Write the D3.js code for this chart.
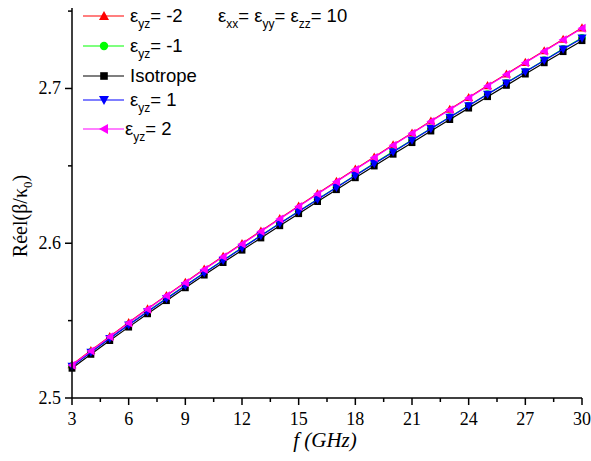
<!DOCTYPE html>
<html>
<head>
<meta charset="utf-8">
<script src="https://cdn.jsdelivr.net/npm/d3@7"></script>
<style>
  body { margin: 0; background: #fff; }
  svg { display: block; }
</style>
</head>
<body>
<div id="chart"></div>
<script>
// frequencies (GHz)
const freqs = [3, 4, 5, 6, 7, 8, 9, 10, 11, 12, 13, 14, 15, 16, 17, 18, 19, 20, 21, 22, 23, 24, 25, 26, 27, 28, 29, 30];

// Réel(beta/k0) for each case
const epsM2 = [2.5215, 2.5307, 2.5398, 2.5488, 2.5576, 2.5663, 2.5748, 2.5833, 2.5916, 2.5998, 2.6079, 2.6160, 2.6241, 2.6321, 2.6400, 2.6479, 2.6557, 2.6636, 2.6713, 2.6790, 2.6866, 2.6942, 2.7019, 2.7094, 2.7169, 2.7244, 2.7318, 2.7392];
const epsM1 = [2.5207, 2.5297, 2.5386, 2.5473, 2.5559, 2.5644, 2.5727, 2.5809, 2.5890, 2.5971, 2.6050, 2.6129, 2.6207, 2.6285, 2.6362, 2.6439, 2.6516, 2.6592, 2.6667, 2.6742, 2.6816, 2.6890, 2.6964, 2.7037, 2.7110, 2.7183, 2.7256, 2.7327];
const iso   = [2.5192, 2.5282, 2.5371, 2.5458, 2.5544, 2.5629, 2.5712, 2.5794, 2.5875, 2.5955, 2.6034, 2.6113, 2.6191, 2.6269, 2.6346, 2.6423, 2.6499, 2.6575, 2.6650, 2.6725, 2.6799, 2.6873, 2.6947, 2.7020, 2.7093, 2.7166, 2.7238, 2.7309];
const epsP1 = [2.5205, 2.5295, 2.5384, 2.5471, 2.5557, 2.5642, 2.5725, 2.5807, 2.5888, 2.5969, 2.6048, 2.6127, 2.6205, 2.6283, 2.6360, 2.6437, 2.6514, 2.6590, 2.6665, 2.6740, 2.6814, 2.6888, 2.6962, 2.7035, 2.7108, 2.7181, 2.7254, 2.7325];
const epsP2 = [2.5212, 2.5304, 2.5395, 2.5485, 2.5573, 2.5660, 2.5745, 2.5830, 2.5913, 2.5995, 2.6076, 2.6157, 2.6238, 2.6318, 2.6397, 2.6476, 2.6554, 2.6633, 2.6710, 2.6787, 2.6863, 2.6939, 2.7016, 2.7091, 2.7166, 2.7241, 2.7315, 2.7389];

const xTicks = [3, 6, 9, 12, 15, 18, 21, 24, 27, 30];
const xMinor = [4.5, 7.5, 10.5, 13.5, 16.5, 19.5, 22.5, 25.5, 28.5];
const yTicks = [2.5, 2.6, 2.7];
const yMinor = [2.55, 2.65, 2.75];

const series = [
    { sub: "yz", label: "= -2", values: epsM2, color: "#ff0000", symbol: "up" },
    { sub: "yz", label: "= -1", values: epsM1, color: "#00ff00", symbol: "circle" },
    { sub: null, label: "Isotrope", values: iso, color: "#000000", symbol: "square" },
    { sub: "yz", label: "= 1", values: epsP1, color: "#0000ff", symbol: "down" },
    { sub: "yz", label: "= 2", values: epsP2, color: "#ff00ff", symbol: "left" }
];

const width = 591, height = 461;
const margin = { top: 8, right: 9, bottom: 63, left: 72 };

const svg = d3.select("#chart").append("svg")
    .attr("width", width)
    .attr("height", height);

const x = d3.scaleLinear().domain([3, 30]).range([margin.left, width - margin.right]);
const y = d3.scaleLinear().domain([2.5, 2.752]).range([height - margin.bottom, margin.top]);

// marker path generator, centred on 0,0
function markerPath(type, s) {
    const h = s / 2;
    if (type === "up") return `M0,${-h}L${h},${h * 0.8}L${-h},${h * 0.8}Z`;
    if (type === "down") return `M0,${h}L${h},${-h * 0.8}L${-h},${-h * 0.8}Z`;
    if (type === "left") return `M${-h},0L${h * 0.8},${-h}L${h * 0.8},${h}Z`;
    if (type === "square") { const q = s * 0.38; return `M${-q},${-q}H${q}V${q}H${-q}Z`; }
    const r = s * 0.42;
    return `M${r},0A${r},${r} 0 1,1 ${-r},0A${r},${r} 0 1,1 ${r},0Z`;
}

const line = d3.line()
    .x((d, i) => x(freqs[i]))
    .y(d => y(d));

// series
series.forEach(s => {
    const g = svg.append("g");
    g.append("path")
        .attr("d", line(s.values))
        .attr("fill", "none")
        .attr("stroke", s.color)
        .attr("stroke-width", 1.2);
    g.selectAll("path.mk")
        .data(s.values)
        .enter()
        .append("path")
        .attr("class", "mk")
        .attr("d", markerPath(s.symbol, 9))
        .attr("transform", (d, i) => `translate(${x(freqs[i])},${y(d)})`)
        .attr("fill", s.color);
});

// axes
const axisG = svg.append("g").attr("stroke", "#000").attr("stroke-width", 1.5);
const x0 = margin.left, yb = height - margin.bottom;

axisG.append("line").attr("x1", x0).attr("x2", width - margin.right).attr("y1", yb).attr("y2", yb);
axisG.append("line").attr("x1", x0).attr("x2", x0).attr("y1", margin.top).attr("y2", yb);

xTicks.forEach(t => axisG.append("line").attr("x1", x(t)).attr("x2", x(t)).attr("y1", yb).attr("y2", yb + 7));
xMinor.forEach(t => axisG.append("line").attr("x1", x(t)).attr("x2", x(t)).attr("y1", yb).attr("y2", yb + 4));
yTicks.forEach(t => axisG.append("line").attr("x1", x0).attr("x2", x0 - 7).attr("y1", y(t)).attr("y2", y(t)));
yMinor.forEach(t => axisG.append("line").attr("x1", x0).attr("x2", x0 - 4).attr("y1", y(t)).attr("y2", y(t)));

const serif = "'Liberation Serif', 'Times New Roman', serif";
const sans = "'Liberation Sans', Arial, sans-serif";

svg.selectAll("text.xt")
    .data(xTicks)
    .enter()
    .append("text")
    .attr("x", d => x(d))
    .attr("y", 425)
    .attr("text-anchor", "middle")
    .attr("font-family", serif)
    .attr("font-size", 18)
    .text(d => d);

svg.selectAll("text.yt")
    .data(yTicks)
    .enter()
    .append("text")
    .attr("x", 61)
    .attr("y", d => y(d) + 6)
    .attr("text-anchor", "end")
    .attr("font-family", serif)
    .attr("font-size", 18)
    .text(d => d.toFixed(1));

// axis titles
const xt = svg.append("text")
    .attr("x", 325)
    .attr("y", 447)
    .attr("text-anchor", "middle")
    .attr("font-family", serif)
    .attr("font-size", 21)
    .attr("font-style", "italic");
xt.append("tspan").text("f");
xt.append("tspan").text(" (GHz)");

const yt = svg.append("text")
    .attr("transform", "translate(27,216) rotate(-90)")
    .attr("text-anchor", "middle")
    .attr("font-family", serif)
    .attr("font-size", 20);
yt.append("tspan").text("Réel(β/κ");
yt.append("tspan").attr("font-size", 13).attr("dy", 5).text("0");
yt.append("tspan").attr("dy", -5).text(")");

// legend
const rowsY = [16, 46, 76, 100, 129];
series.forEach((s, i) => {
    const ly = rowsY[i];
    svg.append("line")
        .attr("x1", 83).attr("x2", 124)
        .attr("y1", ly).attr("y2", ly)
        .attr("stroke", s.color)
        .attr("stroke-width", 1.2);
    svg.append("path")
        .attr("d", markerPath(s.symbol, 10))
        .attr("transform", `translate(104,${ly})`)
        .attr("fill", s.color);
    const t = svg.append("text")
        .attr("x", i === 4 ? 125 : 130)
        .attr("y", ly + 6)
        .attr("font-family", sans)
        .attr("font-size", 18.5);
    if (s.sub) {
        t.append("tspan").text("ε");
        t.append("tspan").attr("font-size", 12).attr("dy", 6).text(s.sub);
        t.append("tspan").attr("dy", -6).text(s.label);
    } else {
        t.text(s.label);
    }
});

// note on diagonal permittivity
const note = svg.append("text")
    .attr("x", 218)
    .attr("y", 22)
    .attr("font-family", sans)
    .attr("font-size", 18.5);
[["xx", "= "], ["yy", "= "], ["zz", "= 10"]].forEach(p => {
    note.append("tspan").text("ε");
    note.append("tspan").attr("font-size", 12).attr("dy", 6).text(p[0]);
    note.append("tspan").attr("dy", -6).text(p[1]);
});
</script>
</body>
</html>
